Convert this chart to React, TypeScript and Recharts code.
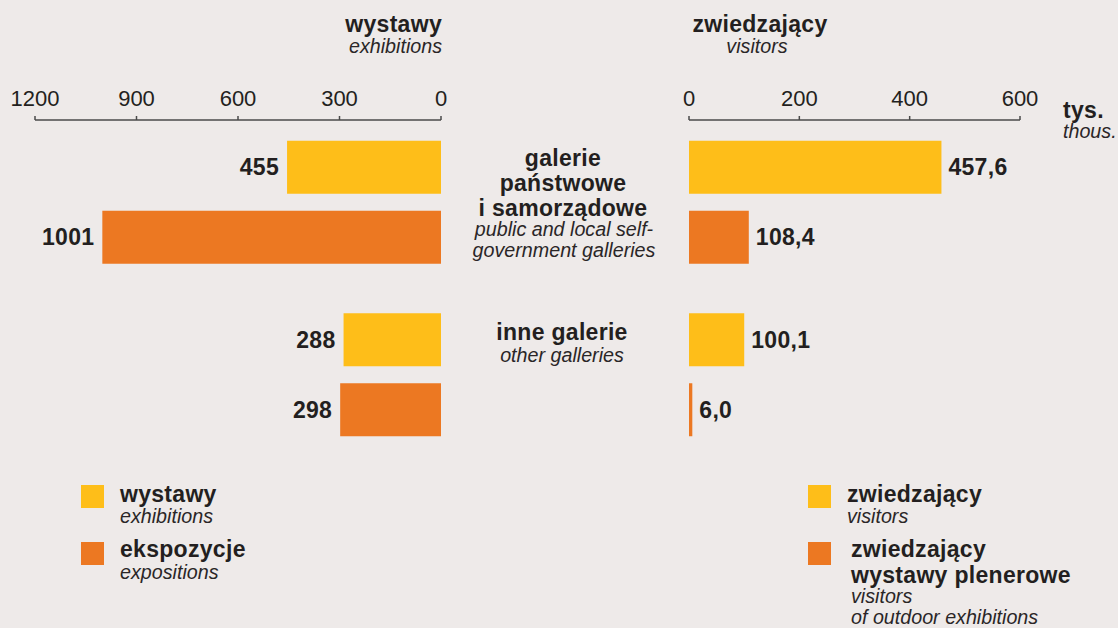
import React from "react";
import { BarChart, Bar, XAxis, YAxis, LabelList } from "recharts";

const categories = ["galerie państwowe i samorządowe", "inne galerie"];
const exhibitions = [455, 288];
const expositions = [1001, 298];
const visitors = [457.6, 100.1];
const outdoorVisitors = [108.4, 6.0];
const leftTicks = [0, 300, 600, 900, 1200];
const rightTicks = [0, 200, 400, 600];

const leftData = categories.map((c, i) => ({ name: c, wystawy: exhibitions[i], ekspozycje: expositions[i] }));
const rightData = categories.map((c, i) => ({ name: c, zwiedzajacy: visitors[i], plenerowe: outdoorVisitors[i] }));

const YELLOW = "#FEBE19";
const ORANGE = "#EC7822";
const TEXT = "#231F20";
const BG = "#EEEAE9";
const FONT = "'Liberation Sans', Arial, sans-serif";
const BOLD = 23;
const ITAL = 19.7;

const getBox = (p: any) => {
  const vb = p.viewBox || {};
  const x = p.x ?? vb.x;
  const y = p.y ?? vb.y;
  const width = p.width ?? vb.width;
  const height = p.height ?? vb.height;
  return { x: Number(x), y: Number(y), width: Number(width), height: Number(height) };
};

const LeftLabel = (p: any) => {
  const { x, y, width, height } = getBox(p);
  const left = Math.min(x, x + width);
  return (
    <text x={left - 8} y={y + height / 2 + 8} textAnchor="end" fontFamily={FONT} fontWeight="bold" fontSize={BOLD} letterSpacing={0.3} fill={TEXT}>
      {p.value}
    </text>
  );
};

const RightLabel = (p: any) => {
  const { x, y, width, height } = getBox(p);
  const right = Math.max(x, x + width);
  return (
    <text x={right + 7} y={y + height / 2 + 8} textAnchor="start" fontFamily={FONT} fontWeight="bold" fontSize={BOLD} letterSpacing={0.3} fill={TEXT}>
      {Number(p.value).toFixed(1).replace(".", ",")}
    </text>
  );
};

const tickStyle = { fill: TEXT, fontSize: 22, fontFamily: FONT };
const axisStroke = "#4a4a4a";

const B = (props: any) => <text fontFamily={FONT} fill={TEXT} fontWeight="bold" fontSize={BOLD} letterSpacing={0.3} {...props} />;
const I = (props: any) => <text fontFamily={FONT} fill="#2a2627" fontStyle="italic" fontSize={ITAL} {...props} />;

export default function App() {
  return (
    <div style={{ position: "fixed", left: 0, top: 0, width: 1118, height: 628, background: BG, overflow: "hidden" }}>
      <div style={{ position: "absolute", left: 0, top: 0 }}>
        <BarChart width={460} height={470} data={leftData} layout="vertical" margin={{ top: 80, right: 19, left: 35, bottom: 9.25 }} barSize={53} barGap={17}>
          <XAxis type="number" orientation="top" reversed domain={[0, 1200]} ticks={leftTicks} interval={0} height={40}
            tick={tickStyle} tickSize={4} tickMargin={10} stroke={axisStroke} axisLine={{ stroke: axisStroke, strokeWidth: 1.5 }} tickLine={{ stroke: axisStroke, strokeWidth: 1.5 }} />
          <YAxis type="category" dataKey="name" hide padding={{ top: -4.25, bottom: 0 }} />
          <Bar dataKey="wystawy" fill={YELLOW} isAnimationActive={false}>
            <LabelList dataKey="wystawy" content={LeftLabel} />
          </Bar>
          <Bar dataKey="ekspozycje" fill={ORANGE} isAnimationActive={false}>
            <LabelList dataKey="ekspozycje" content={LeftLabel} />
          </Bar>
        </BarChart>
      </div>
      <div style={{ position: "absolute", left: 660, top: 0 }}>
        <BarChart width={458} height={470} data={rightData} layout="vertical" margin={{ top: 80, right: 98, left: 29, bottom: 9.25 }} barSize={53} barGap={17}>
          <XAxis type="number" orientation="top" domain={[0, 600]} ticks={rightTicks} interval={0} height={40}
            tick={tickStyle} tickSize={4} tickMargin={10} stroke={axisStroke} axisLine={{ stroke: axisStroke, strokeWidth: 1.5 }} tickLine={{ stroke: axisStroke, strokeWidth: 1.5 }} />
          <YAxis type="category" dataKey="name" hide padding={{ top: -4.25, bottom: 0 }} />
          <Bar dataKey="zwiedzajacy" fill={YELLOW} isAnimationActive={false}>
            <LabelList dataKey="zwiedzajacy" content={RightLabel} />
          </Bar>
          <Bar dataKey="plenerowe" fill={ORANGE} isAnimationActive={false}>
            <LabelList dataKey="plenerowe" content={RightLabel} />
          </Bar>
        </BarChart>
      </div>
      <svg width={1118} height={628} style={{ position: "absolute", left: 0, top: 0, pointerEvents: "none" }}>
        <B x={442} y={32} textAnchor="end">wystawy</B>
        <I x={442} y={53} textAnchor="end">exhibitions</I>
        <B x={760} y={32} textAnchor="middle">zwiedzający</B>
        <I x={757} y={53} textAnchor="middle">visitors</I>
        <B x={1063} y={118}>tys.</B>
        <I x={1063} y={138}>thous.</I>

        <B x={563} y={166} textAnchor="middle">galerie</B>
        <B x={563} y={191} textAnchor="middle">państwowe</B>
        <B x={563} y={216} textAnchor="middle">i samorządowe</B>
        <I x={564} y={236} textAnchor="middle">public and local self-</I>
        <I x={564} y={257} textAnchor="middle">government galleries</I>
        <B x={562} y={340} textAnchor="middle">inne galerie</B>
        <I x={562} y={362} textAnchor="middle">other galleries</I>

        <rect x={81} y={485} width={23} height={23} fill={YELLOW} />
        <B x={120} y={502}>wystawy</B>
        <I x={120} y={523}>exhibitions</I>
        <rect x={81} y={542} width={23} height={23} fill={ORANGE} />
        <B x={120} y={557}>ekspozycje</B>
        <I x={120} y={579}>expositions</I>

        <rect x={808} y={485} width={23} height={23} fill={YELLOW} />
        <B x={847} y={502}>zwiedzający</B>
        <I x={847} y={523}>visitors</I>
        <rect x={808} y={542} width={23} height={23} fill={ORANGE} />
        <B x={851} y={557}>zwiedzający</B>
        <B x={851} y={583}>wystawy plenerowe</B>
        <I x={851} y={603}>visitors</I>
        <I x={851} y={624}>of outdoor exhibitions</I>
      </svg>
    </div>
  );
}
